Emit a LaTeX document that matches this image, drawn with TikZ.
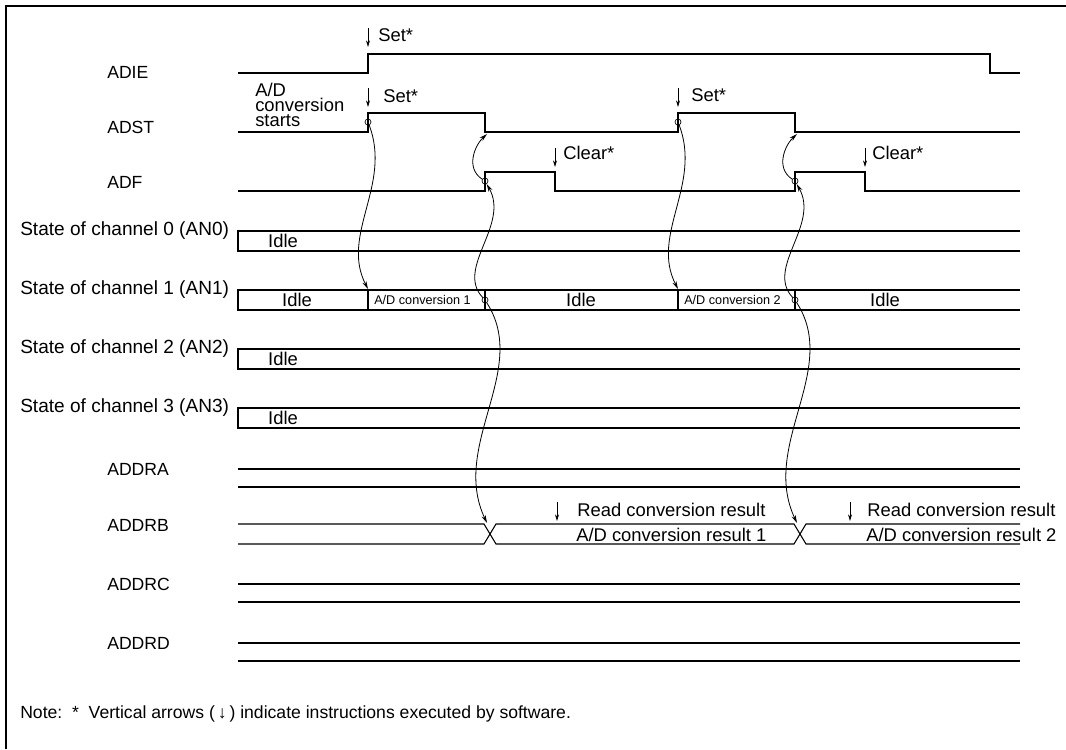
\documentclass[tikz,border=0pt]{standalone}
\usepackage{fontspec}
\setmainfont{Liberation Sans}
\usetikzlibrary{arrows.meta, positioning}

\begin{document}
\begin{tikzpicture}[
    x=0.75pt, y=-0.75pt,
    every node/.style={inner sep=0pt, font=\fontsize{13.8}{16}\selectfont},
    signame/.style={anchor=west, font=\fontsize{13.2}{15}\selectfont},
    chname/.style={anchor=west, font=\fontsize{14.3}{17}\selectfont},
    smalltxt/.style={anchor=west, font=\fontsize{9.5}{11}\selectfont},
    wave/.style={line width=1pt},
    bus/.style={line width=0.8pt},
    swarrow/.style={-{Stealth[length=5pt, width=3pt]}, line width=0.6pt},
    link/.style={-{Stealth[length=6pt, width=3.2pt]}, line width=0.6pt},
    edgedot/.style={circle, draw, line width=0.5pt, minimum size=4.5pt}
  ]
    \useasboundingbox (0,0) rectangle (1066,749);
    \draw[line width=1.5pt] (6,749) -- (6,6) -- (1066,6);

    % signal names
    \node[signame] (adie) at (107,72) {ADIE};
    \node[signame] (adst) at (107,127) {ADST};
    \node[signame] (adf) at (107,182) {ADF};
    \node[chname] (ch0) at (20,231) {State of channel 0 (AN0)};
    \node[chname] (ch1) at (20,290) {State of channel 1 (AN1)};
    \node[chname] (ch2) at (20,349) {State of channel 2 (AN2)};
    \node[chname] (ch3) at (20,408) {State of channel 3 (AN3)};
    \node[signame] (addra) at (107,469) {ADDRA};
    \node[signame] (addrb) at (107,525) {ADDRB};
    \node[signame] (addrc) at (107,584) {ADDRC};
    \node[signame] (addrd) at (107,643) {ADDRD};

    % waveforms
    \draw[wave] (238,73) -- (368,73) -- (368,54) -- (990,54) -- (990,73) -- (1020,73);
    \draw[wave] (238,132) -- (368,132) -- (368,113) -- (485,113) -- (485,132) -- (678,132)
      -- (678,113) -- (795,113) -- (795,132) -- (1020,132);
    \draw[wave] (238,191) -- (485,191) -- (485,172) -- (555,172) -- (555,191) -- (795,191)
      -- (795,172) -- (865,172) -- (865,191) -- (1020,191);

    % channel states
    \foreach \y in {231,290,349,408}
      \draw[bus] (1020,\y) -- (238,\y) -- (238,\y+20) -- (1020,\y+20);
    \foreach \x in {368,485,678,795}
      \draw[bus] (\x,290) -- (\x,310);
    \node (idle0) at (283,241) {Idle};
    \node (idle1) at (297,300) {Idle};
    \node[smalltxt] (conv1txt) at (374,300) {A/D conversion 1};
    \node (idle1b) at (581,300) {Idle};
    \node[smalltxt] (conv2txt) at (684,300) {A/D conversion 2};
    \node (idle1c) at (885,300) {Idle};
    \node (idle2) at (283,359) {Idle};
    \node (idle3) at (283,418) {Idle};

    % data registers
    \foreach \y in {469,584,643} {
      \draw[bus] (238,\y) -- (1020,\y);
      \draw[bus] (238,\y+18) -- (1020,\y+18);
    }
    \draw[bus] (238,524) -- (484,524) -- (496,544) -- (794,544) -- (806,524) -- (1020,524);
    \draw[bus] (238,544) -- (484,544) -- (496,524) -- (794,524) -- (806,544) -- (1020,544);

    % software events
    \foreach \x/\y in {368/28, 368/88, 678/88, 555/148, 865/148, 557/502, 850/502}
      \draw[swarrow] (\x,\y) -- ++(0,19);
    \node[anchor=west] (set0) at (378,35) {Set*};
    \node[anchor=west] (set1) at (383,96) {Set*};
    \node[anchor=west] (set2) at (691,95) {Set*};
    \node[anchor=west] (clr1) at (563,153) {Clear*};
    \node[anchor=west] (clr2) at (872,153) {Clear*};
    \node[anchor=north west, align=left, font={\fontsize{13.8}{11.2}\selectfont\lineskiplimit=-20pt}] (start) at (255,83) {A/D\\conversion\\starts};
    \node[anchor=west] (rd1) at (577,510) {Read conversion result};
    \node[anchor=west] (res1) at (576,535) {A/D conversion result 1};
    \node[anchor=west] (rd2) at (867,510) {Read conversion result};
    \node[anchor=west] (res2) at (866,535) {A/D conversion result 2};

    % cause and effect
    \foreach \o/\n in {0/1, 310/2} {
      \node[edgedot] (go\n) at (368+\o,122) {};
      \node[edgedot] (fl\n) at (485+\o,181) {};
      \node[edgedot] (end\n) at (485+\o,300) {};
      \coordinate (conv\n) at (368+\o,289);
      \coordinate (fall\n) at (487+\o,134);
      \coordinate (cross\n) at (487+\o,523);
      \draw[link] (go\n) .. controls (392+\o,185) and (340+\o,235) .. (conv\n);
      \draw[link] (fl\n) .. controls (465+\o,168) and (475+\o,145) .. (fall\n);
      \draw[link] (end\n) .. controls (455+\o,268) and (510+\o,225) .. (fl\n);
      \draw[link] (end\n) .. controls (530+\o,370) and (450+\o,445) .. (cross\n);
    }

    \node[anchor=west, font=\fontsize{13.2}{15}\selectfont] (note) at (20,714) {Note:\ \ *\ \ Vertical arrows (\,↓\,) indicate instructions executed by software.};
\end{tikzpicture}
\end{document}
